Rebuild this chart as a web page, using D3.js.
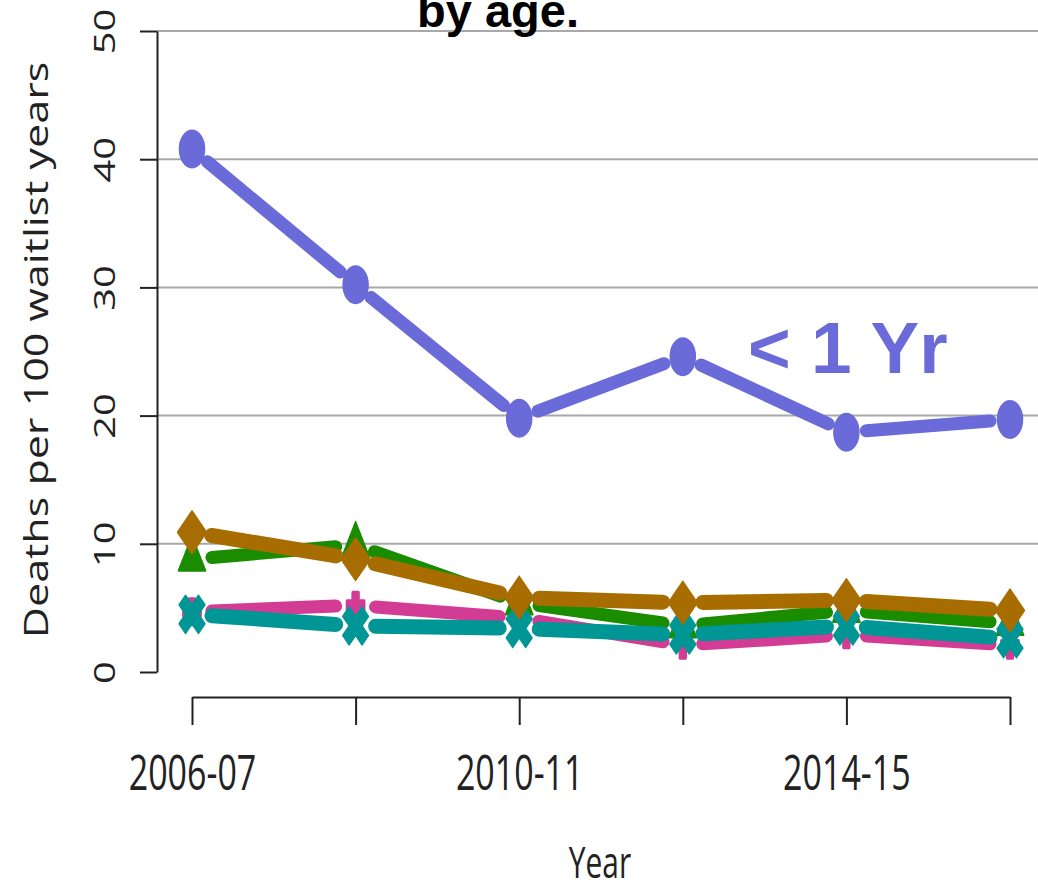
<!DOCTYPE html>
<html lang="en">
<head>
<meta charset="utf-8">
<title>Deaths per 100 waitlist years by age</title>
<script src="https://d3js.org/d3.v7.min.js"></script>
<style>
  body { margin: 0; background: #fff; }
  svg { display: block; background: #fff; }
  .tick text { font-family: "Open Sans", sans-serif; fill: #222; }
</style>
</head>
<body>
<svg id="chart" width="1038" height="886"></svg>
<script>
// data
var years = ["2006-07", "2008-09", "2010-11", "2012-13", "2014-15", "2016-17"];
var yTicks = [0, 10, 20, 30, 40, 50];
var under1 = [40.8, 30.2, 19.8, 24.6, 18.7, 19.7];
var greenVals = [8.8, 9.9, 5.4, 3.6, 4.8, 3.8];
var pinkVals = [4.7, 5.2, 4.2, 2.1, 2.9, 2.1];
var tealVals = [4.5, 3.6, 3.4, 2.9, 3.6, 2.6];
var brownVals = [10.9, 8.8, 5.8, 5.4, 5.6, 4.8];

// draw order: later series sit on top
var series = [
  {name: "< 1 Yr", values: under1, color: "#6a6ad8", shape: "circle", width: 13},
  {name: "green", values: greenVals, color: "#1a8c00", shape: "triangle", width: 13},
  {name: "pink", values: pinkVals, color: "#d23c94", shape: "asterisk", width: 13},
  {name: "teal", values: tealVals, color: "#009696", shape: "x", width: 15},
  {name: "brown", values: brownVals, color: "#a86d00", shape: "diamond", width: 15}
];

var svg = d3.select("#chart");
var sx = 0.68; // the original plot is squeezed sideways

var x = d3.scalePoint().domain(years).range([192, 1010]);
var y = d3.scaleLinear().domain([0, 50]).range([672, 31]);

// grid lines
svg.append("g").selectAll("line")
    .data(yTicks.slice(1))
    .enter().append("line")
    .attr("x1", 157).attr("x2", 1038)
    .attr("y1", d => y(d)).attr("y2", d => y(d))
    .attr("stroke", "#a8a8a8").attr("stroke-width", 2);

// y axis
var yAxis = svg.append("g")
    .attr("transform", "translate(157,0)")
    .call(d3.axisLeft(y).tickValues(yTicks).tickSize(17).tickSizeOuter(0).tickFormat(d3.format("d")));
yAxis.select(".domain").attr("stroke", "#222").attr("stroke-width", 2);
yAxis.selectAll(".tick line").attr("stroke", "#222").attr("stroke-width", 2);
yAxis.selectAll(".tick text")
    .attr("x", null).attr("dy", null)
    .attr("text-anchor", "middle")
    .attr("font-size", 40)
    .attr("transform", "translate(-42,0) scale(0.72,1) rotate(-90)");

// x axis
var xAxis = svg.append("g")
    .attr("transform", "translate(0,697)")
    .call(d3.axisBottom(x).tickSize(28).tickSizeOuter(0)
      .tickFormat((d, i) => i % 2 === 0 ? d : ""));
xAxis.select(".domain").attr("stroke", "#222").attr("stroke-width", 2);
xAxis.selectAll(".tick line").attr("stroke", "#222").attr("stroke-width", 2);
xAxis.selectAll(".tick text")
    .attr("y", null).attr("dy", null)
    .attr("font-size", 50)
    .attr("transform", "translate(0,93) scale(" + sx + ",1)");

// axis titles
svg.append("text")
    .attr("transform", "translate(48,350) scale(0.76,1) rotate(-90)")
    .attr("text-anchor", "middle")
    .attr("font-family", "Open Sans, sans-serif")
    .attr("font-size", 43)
    .attr("fill", "#222")
    .text("Deaths per 100 waitlist years");

svg.append("text")
    .attr("transform", "translate(600,878) scale(" + sx + ",1)")
    .attr("text-anchor", "middle")
    .attr("font-family", "Open Sans, sans-serif")
    .attr("font-size", 44)
    .attr("fill", "#222")
    .text("Year");

// marker shapes, drawn in unsqueezed units then squeezed
function markerPath(shape) {
  if (shape === "circle") return d3.symbol(d3.symbolCircle, 1075)();
  if (shape === "triangle") return d3.symbol(d3.symbolTriangle, 700)();
  if (shape === "diamond") return d3.symbol(d3.symbolSquare, 900)();
  if (shape === "x") return d3.symbol(d3.symbolCross, 900)();
  return d3.symbol(d3.symbolCross, 350)();
}
function markerTransform(shape) {
  if (shape === "diamond" || shape === "x") return "scale(" + sx + ",1) rotate(45)";
  return "scale(" + sx + ",1)";
}

var gap = 20;
series.forEach(function(s) {
  var g = svg.append("g").attr("class", "series");
  var pts = s.values.map((v, i) => [x(years[i]), y(v)]);
  var segs = d3.pairs(pts).map(function(p) {
    var dx = p[1][0] - p[0][0], dy = p[1][1] - p[0][1];
    var len = Math.sqrt(dx * dx + dy * dy);
    var ux = dx / len, uy = dy / len;
    return [[p[0][0] + ux * gap, p[0][1] + uy * gap], [p[1][0] - ux * gap, p[1][1] - uy * gap]];
  });
  g.selectAll("line")
    .data(segs)
    .enter().append("line")
    .attr("x1", d => d[0][0]).attr("y1", d => d[0][1])
    .attr("x2", d => d[1][0]).attr("y2", d => d[1][1])
    .attr("stroke", s.color)
    .attr("stroke-width", s.width)
    .attr("stroke-linecap", "round");

  g.selectAll("g.pt")
    .data(s.values)
    .enter().append("g")
    .attr("class", "pt")
    .attr("transform", (d, i) => "translate(" + x(years[i]) + "," + y(d) + ")")
    .append("path")
    .attr("d", markerPath(s.shape))
    .attr("transform", markerTransform(s.shape))
    .attr("fill", s.color)
    .attr("stroke", s.color)
    .attr("stroke-width", s.shape === "asterisk" ? 4 : 2)
    .attr("stroke-linejoin", "round");
});

// series label
svg.append("text")
    .attr("x", 748).attr("y", 373)
    .attr("font-family", "Liberation Sans, Arial, sans-serif")
    .attr("font-weight", "bold")
    .attr("font-size", 73)
    .attr("fill", "#6a6ad8")
    .text("< 1 Yr");

// title (top line is cut off in the picture)
svg.append("text")
    .attr("x", 498).attr("y", 27)
    .attr("text-anchor", "middle")
    .attr("font-family", "Liberation Sans, Arial, sans-serif")
    .attr("font-weight", "bold")
    .attr("font-size", 47)
    .attr("fill", "#000")
    .text("by age.");
</script>
</body>
</html>
